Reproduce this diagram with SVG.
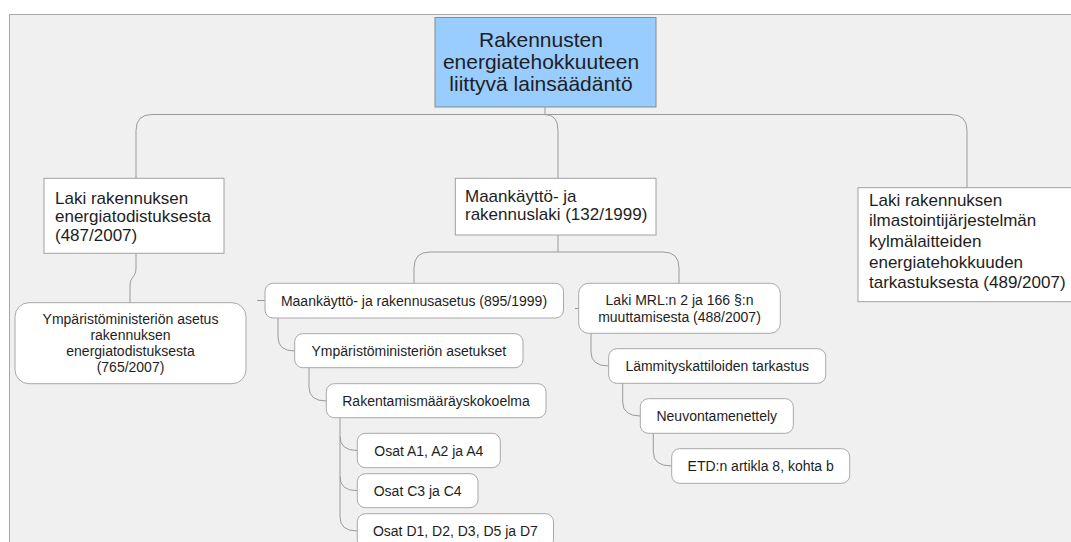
<svg xmlns="http://www.w3.org/2000/svg" width="1071" height="542" viewBox="0 0 1071 542">
<style>
  .frame{fill:#f0f0f0;stroke:#a6a6a6;stroke-width:1}
  .title{fill:#99ccff;stroke:#8a8a8a;stroke-width:1}
  .box{fill:#ffffff;stroke:#a0a0a0;stroke-width:1}
  .rbox{fill:#ffffff;stroke:#a8a8a8;stroke-width:1}
  .conn{fill:none;stroke:#9a9a9a;stroke-width:1}
  text{font-family:"Liberation Sans",Arial,sans-serif;fill:#1e1e1e}
  .t21{font-size:21px;text-anchor:middle}
  .t17{font-size:17px}
  .t14{font-size:14px;text-anchor:middle}
</style>
<rect x="0" y="0" width="1071" height="542" fill="#ffffff"/>
<rect class="frame" x="9.5" y="14.5" width="1075" height="540"/>

<g id="connectors">
  <path class="conn" d="M545,107 V114.5"/>
  <path class="conn" d="M136,178 V130.5 Q136,114.5 152,114.5 H951 Q967,114.5 967,130.5 V188"/>
  <path class="conn" d="M545,114.5 Q558,114.5 558,130.5 V178"/>
  <path class="conn" d="M136,253 V268 C136,278 130,276 130,286 V303"/>
  <path class="conn" d="M558,235 V252"/>
  <path class="conn" d="M414,283.5 V268 Q414,252 430,252 H663 Q679,252 679,268 V283.5"/>
  <path class="conn" d="M257,300.5 H265"/>
  <path class="conn" d="M575,308.5 H579"/>
  <path class="conn" d="M278,318 V337 Q278,351 294.7,351"/>
  <path class="conn" d="M309,367.7 V387 Q309,401 326.3,401"/>
  <path class="conn" d="M340,417.7 V517 Q340,531 357.3,531"/>
  <path class="conn" d="M340,436.5 Q340,450.5 357.3,450.5"/>
  <path class="conn" d="M340,476.7 Q340,490.7 357.3,490.7"/>
  <path class="conn" d="M591,333.3 V352 Q591,366 608.7,366"/>
  <path class="conn" d="M622.7,383.3 V402 Q622.7,416 640.3,416"/>
  <path class="conn" d="M653.3,433.3 V452 Q653.3,466 671.7,466"/>
</g>

<g id="root">
  <rect class="title" x="435" y="17.5" width="221" height="89.5"/>
  <text class="t21" x="541" y="47">Rakennusten</text>
  <text class="t21" x="541" y="69">energiatehokkuuteen</text>
  <text class="t21" x="541" y="91">liittyvä lainsäädäntö</text>
</g>

<g id="laki-energiatodistus">
  <rect class="box" x="44" y="178.3" width="180" height="75"/>
  <text class="t17" x="55" y="204">Laki rakennuksen</text>
  <text class="t17" x="55" y="222.3">energiatodistuksesta</text>
  <text class="t17" x="55" y="240.7">(487/2007)</text>
</g>

<g id="mrl">
  <rect class="box" x="455.3" y="178.3" width="200.7" height="56.7"/>
  <text class="t17" x="465" y="201.7">Maankäyttö- ja</text>
  <text class="t17" x="465" y="220">rakennuslaki (132/1999)</text>
</g>

<g id="laki-ilmastointi">
  <rect class="box" x="858" y="187.7" width="214" height="114"/>
  <text class="t17" x="869" y="205.5">Laki rakennuksen</text>
  <text class="t17" x="869" y="226.2">ilmastointijärjestelmän</text>
  <text class="t17" x="869" y="246.9">kylmälaitteiden</text>
  <text class="t17" x="869" y="267.6">energiatehokkuuden</text>
  <text class="t17" x="869" y="288.3">tarkastuksesta (489/2007)</text>
</g>

<g id="ym-asetus-energiatodistus">
  <rect class="rbox" x="15" y="302.7" width="231" height="81" rx="14"/>
  <text class="t14" x="130.5" y="324.2">Ympäristöministeriön asetus</text>
  <text class="t14" x="130.5" y="340.2">rakennuksen</text>
  <text class="t14" x="130.5" y="356.2">energiatodistuksesta</text>
  <text class="t14" x="130.5" y="372.2">(765/2007)</text>
</g>

<g id="mra">
  <rect class="rbox" x="265" y="283.3" width="298.5" height="34.7" rx="8"/>
  <text class="t14" x="414" y="305.6">Maankäyttö- ja rakennusasetus (895/1999)</text>
</g>

<g id="ym-asetukset">
  <rect class="rbox" x="294.7" y="333.7" width="228.3" height="34" rx="8"/>
  <text class="t14" x="408.8" y="355.7">Ympäristöministeriön asetukset</text>
</g>

<g id="rakmk">
  <rect class="rbox" x="326.3" y="383.7" width="219.7" height="34" rx="8"/>
  <text class="t14" x="436" y="405.7">Rakentamismääräyskokoelma</text>
</g>

<g id="osat-a">
  <rect class="rbox" x="357.3" y="433.3" width="143" height="34.4" rx="8"/>
  <text class="t14" x="428.8" y="455.5">Osat A1, A2 ja A4</text>
</g>

<g id="osat-c">
  <rect class="rbox" x="357.3" y="473.7" width="120.7" height="34" rx="8"/>
  <text class="t14" x="417.7" y="495.7">Osat C3 ja C4</text>
</g>

<g id="osat-d">
  <rect class="rbox" x="357.3" y="513.7" width="196.2" height="34" rx="8"/>
  <text class="t14" x="455.4" y="535.7">Osat D1, D2, D3, D5 ja D7</text>
</g>

<g id="laki-mrl-muutos">
  <rect class="rbox" x="578.7" y="283.3" width="201.6" height="50" rx="10"/>
  <text class="t14" x="679.5" y="305">Laki MRL:n 2 ja 166 §:n</text>
  <text class="t14" x="679.5" y="321.6">muuttamisesta (488/2007)</text>
</g>

<g id="lammityskattilat">
  <rect class="rbox" x="608.7" y="348.7" width="217" height="34.6" rx="8"/>
  <text class="t14" x="717.2" y="371">Lämmityskattiloiden tarkastus</text>
</g>

<g id="neuvonta">
  <rect class="rbox" x="640.3" y="398.7" width="153" height="34.6" rx="8"/>
  <text class="t14" x="716.8" y="421">Neuvontamenettely</text>
</g>

<g id="etd">
  <rect class="rbox" x="671.7" y="448.7" width="178" height="34.6" rx="8"/>
  <text class="t14" x="760.7" y="471">ETD:n artikla 8, kohta b</text>
</g>
</svg>
